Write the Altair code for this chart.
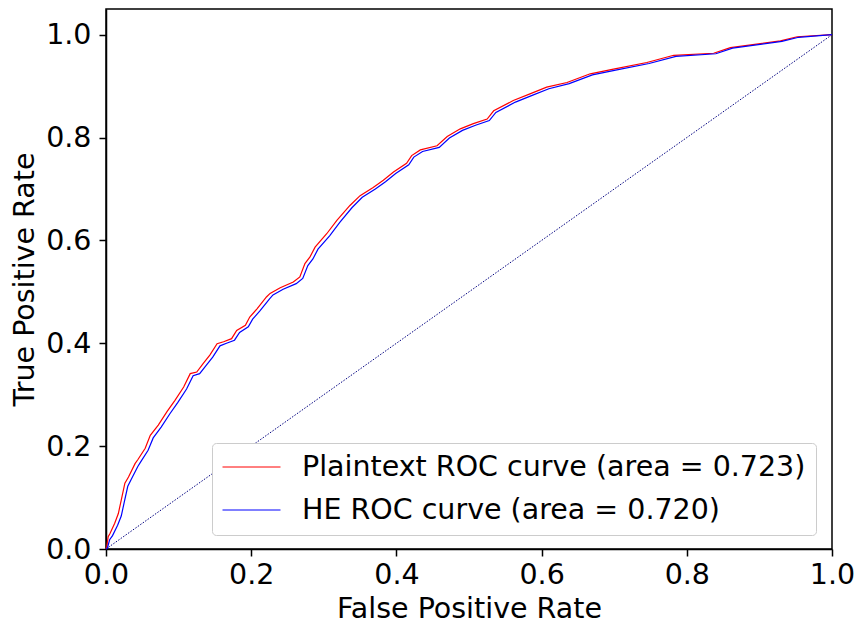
import altair as alt
import pandas as pd

# ROC curve points (false positive rate, true positive rate)
plain_fpr = [0.0, 0.001, 0.003, 0.0055, 0.012, 0.017, 0.021, 0.026, 0.031, 0.04,
             0.044, 0.054, 0.061, 0.072, 0.084, 0.095, 0.107, 0.116, 0.125, 0.134,
             0.143, 0.153, 0.162, 0.173, 0.18, 0.192, 0.198, 0.208, 0.221, 0.226,
             0.24, 0.258, 0.267, 0.274, 0.281, 0.288, 0.304, 0.318, 0.336, 0.35,
             0.368, 0.382, 0.396, 0.414, 0.421, 0.433, 0.456, 0.47, 0.488, 0.506,
             0.525, 0.534, 0.561, 0.584, 0.607, 0.635, 0.667, 0.699, 0.745, 0.782,
             0.837, 0.86, 0.929, 0.952, 1.0]
plain_tpr = [0.0, 0.004, 0.024, 0.03, 0.05, 0.069, 0.095, 0.128, 0.14, 0.166,
             0.174, 0.196, 0.221, 0.241, 0.267, 0.289, 0.315, 0.341, 0.344, 0.361,
             0.377, 0.399, 0.403, 0.409, 0.425, 0.435, 0.451, 0.467, 0.49, 0.497,
             0.508, 0.519, 0.529, 0.555, 0.568, 0.587, 0.613, 0.639, 0.668, 0.687,
             0.703, 0.717, 0.733, 0.75, 0.765, 0.776, 0.784, 0.802, 0.817, 0.827,
             0.836, 0.852, 0.872, 0.885, 0.898, 0.907, 0.924, 0.933, 0.946, 0.96,
             0.964, 0.975, 0.988, 0.996, 1.0]

he_fpr = [0.0, 0.002, 0.005, 0.009, 0.016, 0.021, 0.025, 0.03, 0.035, 0.044,
          0.048, 0.058, 0.065, 0.076, 0.088, 0.099, 0.111, 0.12, 0.129, 0.138,
          0.147, 0.157, 0.166, 0.177, 0.184, 0.196, 0.202, 0.212, 0.225, 0.23,
          0.244, 0.262, 0.271, 0.278, 0.285, 0.292, 0.308, 0.322, 0.339, 0.353,
          0.371, 0.385, 0.399, 0.417, 0.424, 0.436, 0.459, 0.473, 0.491, 0.509,
          0.528, 0.537, 0.564, 0.587, 0.61, 0.638, 0.67, 0.702, 0.748, 0.785,
          0.84, 0.863, 0.931, 0.954, 1.0]
he_tpr = [0.0, 0.002, 0.018, 0.026, 0.046, 0.064, 0.09, 0.122, 0.136, 0.161,
          0.17, 0.192, 0.216, 0.237, 0.263, 0.285, 0.311, 0.337, 0.341, 0.357,
          0.373, 0.395, 0.4, 0.406, 0.421, 0.432, 0.447, 0.463, 0.486, 0.494,
          0.505, 0.516, 0.526, 0.551, 0.564, 0.583, 0.609, 0.635, 0.664, 0.684,
          0.7, 0.714, 0.73, 0.747, 0.762, 0.773, 0.781, 0.799, 0.814, 0.824,
          0.833, 0.849, 0.869, 0.882, 0.895, 0.905, 0.922, 0.931, 0.944, 0.958,
          0.963, 0.974, 0.987, 0.995, 1.0]

series_names = ["Plaintext ROC curve (area = 0.723)", "HE ROC curve (area = 0.720)"]
series_colors = ["red", "blue"]

chance_fpr = [0.0, 1.0]
chance_tpr = [0.0, 1.0]

FONT = "DejaVu Sans"
FS = 28.5

plain_df = pd.DataFrame({"fpr": plain_fpr, "tpr": plain_tpr, "series": series_names[0],
                         "i": range(len(plain_fpr))})
he_df = pd.DataFrame({"fpr": he_fpr, "tpr": he_tpr, "series": series_names[1],
                      "i": range(len(he_fpr))})
chance_df = pd.DataFrame({"fpr": chance_fpr, "tpr": chance_tpr})

x_scale = alt.Scale(domain=[0, 1], nice=False, zero=False)
y_scale = alt.Scale(domain=[0, 1.05], nice=False, zero=False)

x_axis = alt.Axis(title="False Positive Rate", values=[0, 0.2, 0.4, 0.6, 0.8, 1.0],
                  format=".1f", grid=False, tickSize=7, tickWidth=1.5, tickColor="black",
                  domainColor="black", domainWidth=1.5, labelFontSize=FS, labelFont=FONT,
                  labelColor="black", labelPadding=4, titleFontSize=FS, titleFont=FONT,
                  titleFontWeight="normal", titleColor="black", titlePadding=6,
                  labelFlush=False)
y_axis = alt.Axis(title="True Positive Rate", values=[0, 0.2, 0.4, 0.6, 0.8, 1.0],
                  format=".1f", grid=False, tickSize=7, tickWidth=1.5, tickColor="black",
                  domainColor="black", domainWidth=1.5, labelFontSize=FS, labelFont=FONT,
                  labelColor="black", labelPadding=8, titleFontSize=FS, titleFont=FONT,
                  titleFontWeight="normal", titleColor="black", titlePadding=6,
                  labelFlush=False)

color_enc = alt.Color(
    "series:N",
    scale=alt.Scale(domain=series_names, range=series_colors),
    sort=series_names,
    legend=alt.Legend(
        title=None, orient="none", legendX=106, legendY=434,
        symbolType="stroke", symbolSize=3364, symbolStrokeWidth=1,
        labelFontSize=FS, labelFont=FONT, labelColor="black", labelLimit=800,
        labelOffset=21, padding=10, rowPadding=14, clipHeight=28,
        strokeColor="#cccccc", fillColor="white", cornerRadius=4,
    ),
)

chance = alt.Chart(chance_df).mark_line(
    color="navy", strokeWidth=1, strokeDash=[1.5, 1.5]
).encode(
    x=alt.X("fpr:Q", scale=x_scale, axis=x_axis),
    y=alt.Y("tpr:Q", scale=y_scale, axis=y_axis),
)

plain_line = alt.Chart(plain_df).mark_line(strokeWidth=1.2).encode(
    x=alt.X("fpr:Q", scale=x_scale, axis=x_axis),
    y=alt.Y("tpr:Q", scale=y_scale, axis=y_axis),
    color=color_enc,
    order="i:Q",
)

he_line = alt.Chart(he_df).mark_line(strokeWidth=1.2).encode(
    x=alt.X("fpr:Q", scale=x_scale, axis=x_axis),
    y=alt.Y("tpr:Q", scale=y_scale, axis=y_axis),
    color=color_enc,
    order="i:Q",
)

chart = alt.layer(chance, plain_line, he_line).properties(
    width=726,
    height=540,
    background="white",
    autosize=alt.AutoSizeParams(type="none"),
    padding={"left": 106, "top": 9, "right": 23, "bottom": 75},
).configure_view(
    stroke="black", strokeWidth=1.5
)

chart.save("out.html", embed_options={"renderer": "svg", "actions": False})
